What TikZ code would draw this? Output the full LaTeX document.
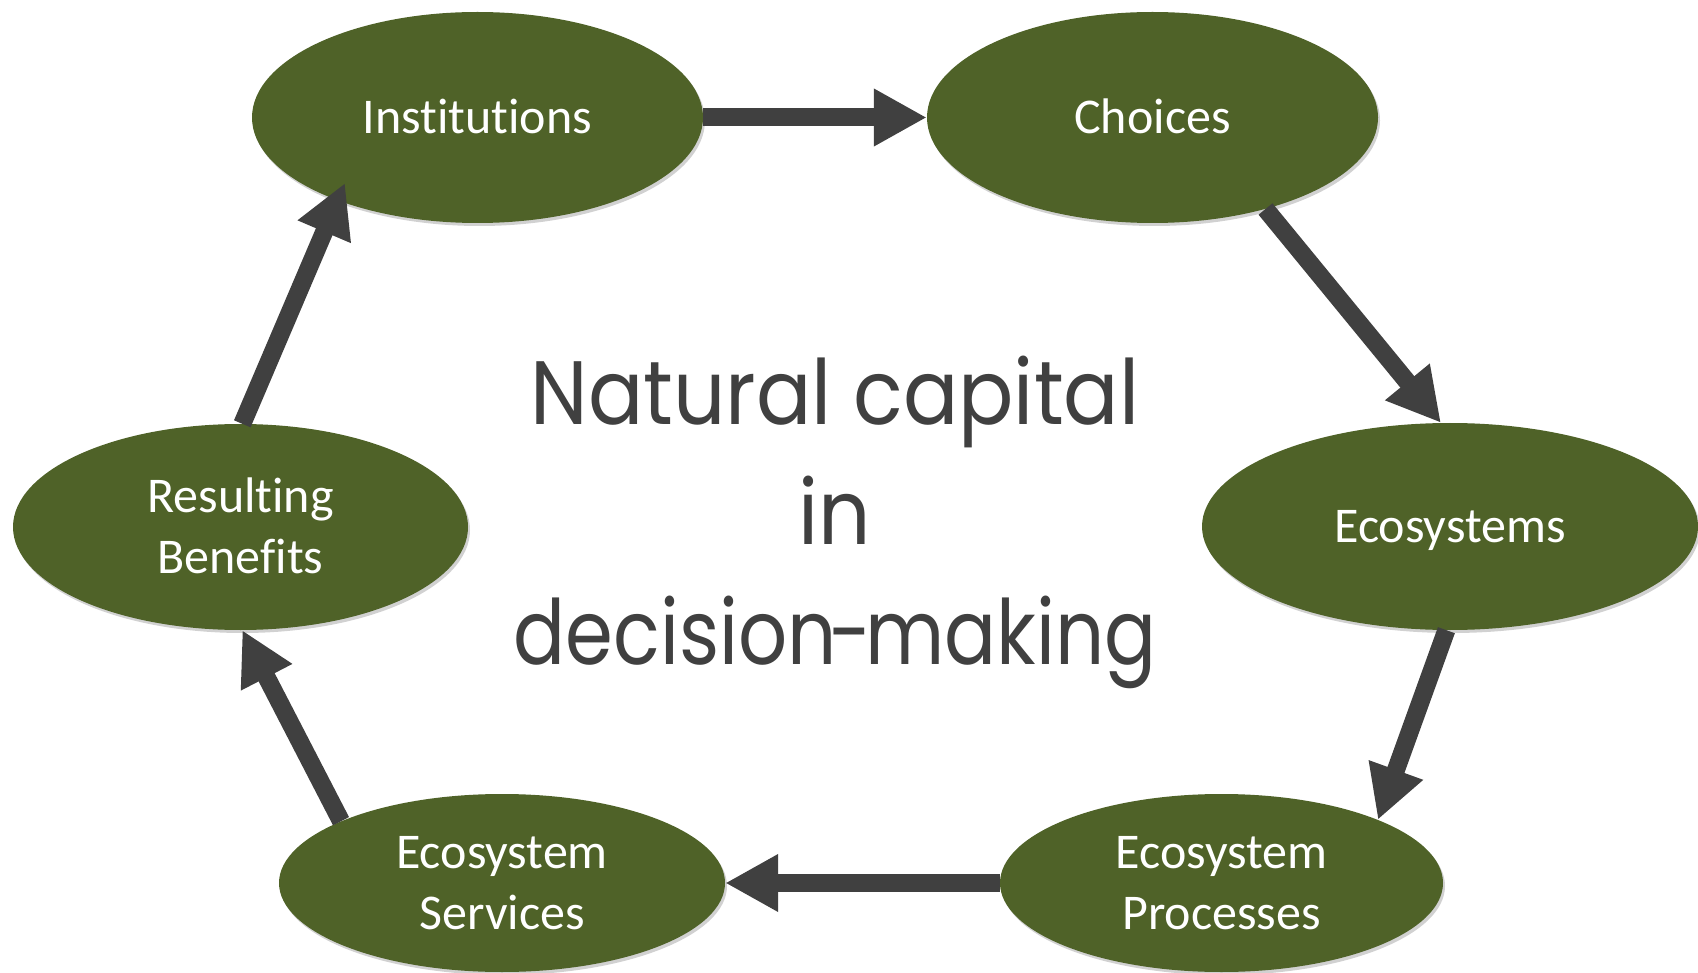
\documentclass[tikz,border=0pt]{standalone}
\usepackage{fontspec}
\setmainfont{Carlito}[Ligatures={NoCommon}]
\newfontfamily\ctrfont{Poppins}[FakeStretch=0.91]
\newfontfamily\ctrnarrow{Poppins}[FakeStretch=0.855]
\usetikzlibrary{shapes.geometric,arrows.meta,shadows}
\definecolor{nodegreen}{HTML}{4F6228}
\definecolor{arrowgray}{HTML}{404040}
\begin{document}
\begin{tikzpicture}[x=1pt,y=-1pt,
  bubble/.style={ellipse, fill=nodegreen, inner sep=0pt, text=white,
    font=\fontsize{50}{61}\selectfont, align=center, text depth=0pt,
    drop shadow={shadow xshift=2pt, shadow yshift=-3pt, opacity=0.18, fill=black}},
  oneline/.style={text height=32pt},
  twoline/.style={text height=93pt},
  flow/.style={draw=arrowgray, line width=18pt, -{Triangle[length=53pt,width=54pt]}},
  title/.style={text=arrowgray, font=\ctrfont\fontsize{90}{120}\selectfont, align=center,
    text height=303pt, text depth=0pt, inner sep=0pt}
]
\useasboundingbox (0,0) rectangle (1698,973);
\clip (0,0) rectangle (1698,973);

\node[bubble, oneline, minimum width=451pt, minimum height=211pt] (inst) at (477.5,117.5) {Institutions};
\node[bubble, oneline, minimum width=451pt, minimum height=211pt] (cho) at (1152.5,117.5) {Choices};
\node[bubble, oneline, minimum width=496pt, minimum height=207pt] (eco) at (1450,526.5) {Ecosystems};
\node[bubble, twoline, minimum width=443pt, minimum height=178pt] (proc) at (1221.5,883) {Ecosystem\\Processes};
\node[bubble, twoline, minimum width=446pt, minimum height=178pt] (serv) at (502,883) {Ecosystem\\Services};
\node[bubble, twoline, minimum width=455pt, minimum height=206pt] (ben) at (240.5,527) {Resulting\\Benefits};

\node[title] (ttl) at (835,513) {Natural capital\\in\\{\ctrnarrow decision\kern-7pt-\kern-7pt making}};

\draw[flow] (inst.east) -- (cho.west);
\draw[flow] (cho.-39) -- (eco.95);
\draw[flow] (eco.-92) -- (proc.22);
\draw[flow] (proc.west) -- (serv.east);
\draw[flow] (serv.159) -- (ben.-89);
\draw[flow] (ben.89) -- ([shift={(-132.5pt,-65.5pt)}]inst.center);
\end{tikzpicture}
\end{document}
